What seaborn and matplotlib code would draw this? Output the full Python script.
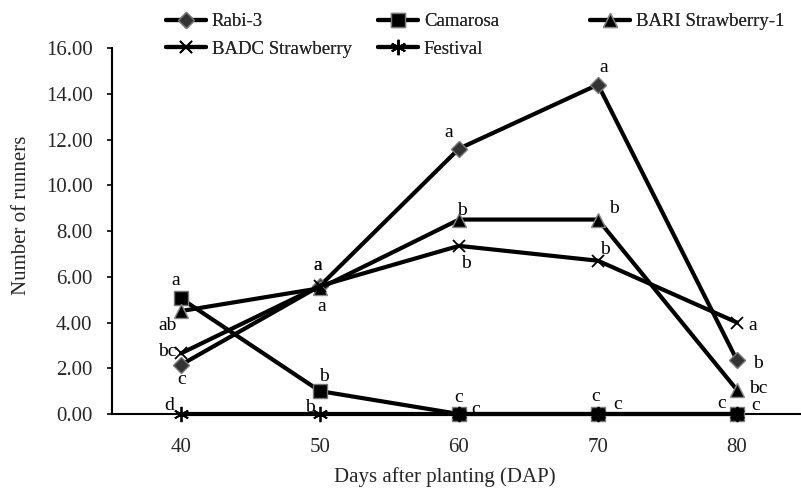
import matplotlib
matplotlib.use("Agg")
import matplotlib.pyplot as plt
import seaborn as sns
import pandas as pd

# Runner counts per cultivar at each sampling date
days = ["40", "50", "60", "70", "80"]
rabi3 = [2.15, 5.60, 11.60, 14.40, 2.35]
camarosa = [5.05, 1.00, 0.00, 0.00, 0.00]
bari1 = [4.50, 5.50, 8.50, 8.50, 1.05]
badc = [2.65, 5.60, 7.35, 6.70, 4.00]
festival = [0.00, 0.00, 0.00, 0.00, 0.00]

# Mean-separation letters (DMRT)
rabi3_letters = ["c", "a", "a", "a", "b"]
camarosa_letters = ["a", "b", "c", "c", "c"]
bari1_letters = ["ab", "a", "b", "b", "bc"]
badc_letters = ["bc", "a", "b", "b", "a"]
festival_letters = ["d", "b", "c", "c", "c"]

y_ticks = [0, 2, 4, 6, 8, 10, 12, 14, 16]

sns.set_style("white")
plt.rcParams["font.family"] = ["Liberation Serif", "DejaVu Serif"]

fig = plt.figure(figsize=(8.01, 4.90), dpi=100)
W, H = 801, 490
ax = fig.add_axes([111.5 / W, (490 - 414) / H, 695 / W, 366 / H])

series = [
    ("Rabi-3", rabi3, rabi3_letters,
     dict(marker="D", markersize=8, markerfacecolor="#333333", markeredgecolor="#777777", markeredgewidth=1.0),
     [(1, -15), (-2, 20), (-10, 16), (6, 17), (21, -3)]),
    ("Camarosa", camarosa, camarosa_letters,
     dict(marker="s", markersize=10, markerfacecolor="black", markeredgecolor="#777777", markeredgewidth=1.0),
     [(-5, 18), (4, 15), (0, 17), (-2, 18), (-15, 11)]),
    ("BARI Strawberry-1", bari1, bari1_letters,
     dict(marker="^", markersize=10, markerfacecolor="black", markeredgecolor="#888888", markeredgewidth=1.0),
     [(-13, -14), (2, -18), (3, 9), (16, 11), (21, 1)]),
    ("BADC Strawberry", badc, badc_letters,
     dict(marker="x", markersize=9, markeredgecolor="black", markeredgewidth=1.3),
     [(-14, 2), (-2, 20), (7, -18), (7, 11), (16, -3)]),
    ("Festival", festival, festival_letters,
     dict(marker=(6, 2, 0), markersize=11, markeredgecolor="black", markeredgewidth=1.3),
     [(-12, 9), (-10, 7), (17, 5), (20, 10), (19, 9)]),
]

handles = {}
for name, vals, letters, mstyle, offs in series:
    df = pd.DataFrame({"DAP": days, "runners": vals})
    sns.lineplot(data=df, x="DAP", y="runners", ax=ax, color="black", linewidth=3.0,
                 label=name, clip_on=False, zorder=3, **mstyle)
    handles[name] = ax.get_lines()[-1]
    for i, (v, lt, (dx, dy)) in enumerate(zip(vals, letters, offs)):
        ax.annotate(lt, (i, v), xytext=(dx, dy), textcoords="offset pixels",
                    ha="center", va="center", fontsize=14, color="black", zorder=5)

ax.get_legend().remove()

ax.set_xlim(-0.5, 4.5)
ax.set_ylim(0, 16)
ax.set_yticks(y_ticks)
ax.set_yticklabels([f"{t:.2f}" for t in y_ticks], fontsize=15)
ax.set_xticks(range(len(days)))
ax.set_xticklabels(days, fontsize=15)
ax.set_xticks([0.5, 1.5, 2.5, 3.5], minor=True)
ax.tick_params(axis="x", which="major", length=0, pad=17)
ax.tick_params(axis="x", which="minor", length=3.6, width=1.2, direction="out", color="black")
ax.tick_params(axis="y", which="major", length=3.6, width=1.2, direction="out", color="black", pad=10, left=True)
ax.set_xlabel("")
ax.set_ylabel("")

for side in ["top", "right"]:
    ax.spines[side].set_visible(False)
for side in ["left", "bottom"]:
    ax.spines[side].set_color("black")
    ax.spines[side].set_linewidth(1.5)

fig.text(445 / W, 1 - 477 / H, "Days after planting (DAP)", ha="center", va="center", fontsize=15)
fig.text(22 / W, 1 - 215 / H, "Number of runners", ha="center", va="center", rotation=90, fontsize=15)

leg_kw = dict(frameon=False, fontsize=13.5, handlelength=2.15, handletextpad=0.3,
              labelspacing=0.55, borderaxespad=0, borderpad=0, loc="upper left")
groups = [(["Rabi-3", "BADC Strawberry"], 166),
          (["Camarosa", "Festival"], 378),
          (["BARI Strawberry-1"], 590)]
for names, x0 in groups:
    leg = fig.legend([handles[n] for n in names], names, bbox_to_anchor=(x0 / W, 1 - 13 / H), **leg_kw)
    fig.add_artist(leg)

fig.savefig("out.png", dpi=100)
